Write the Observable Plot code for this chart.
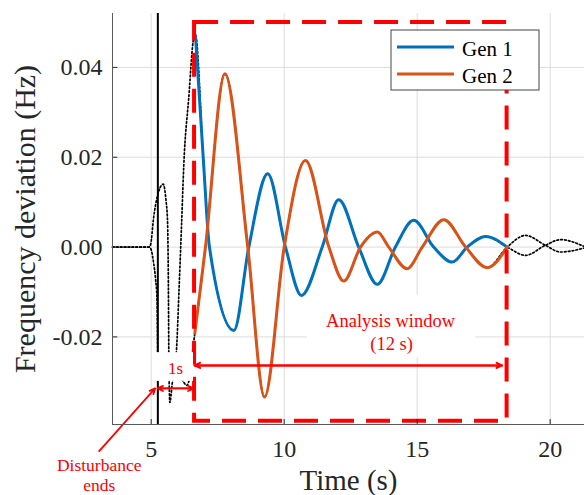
<!DOCTYPE html>
<html><head><meta charset="utf-8">
<script src="https://cdn.jsdelivr.net/npm/d3@7"></script>
<script src="https://cdn.jsdelivr.net/npm/@observablehq/plot@0.6"></script>
<style>html,body{margin:0;padding:0;background:#fff;} svg{display:block}</style>
</head><body><div id="chart"></div>
<script>
// ---- data ----
const gen1T = [3.545, 4.90, 4.97, 5.10, 5.24, 5.451, 5.556, 5.613, 5.65, 5.662, 5.677, 5.70, 5.79, 5.95, 6.045, 6.14, 6.225, 6.41, 6.60,
  6.665, 6.955, 7.19, 8.11, 8.67, 9.38, 10.05, 10.65, 11.43, 12.05, 12.80, 13.50, 14.18, 14.87, 15.62, 16.32, 16.88, 17.57, 18.38,
  19.07, 19.82, 20.39, 21.29];
const gen1V = [0, 0, 0.0004, 0.0070, 0.0115, 0.0140, 0.0104, 0.0059, -0.0119, -0.0237, -0.0304, -0.0346, -0.0304, -0.0230, -0.0097, 0.0048, 0.0182, 0.0331, 0.0465,
  0.0471, 0.0200, 0, -0.01855, 0, 0.01635, 0, -0.01076, 0, 0.01056, 0, -0.0083, 0, 0.00595, 0, -0.00334, 0, 0.00238, 0,
  -0.00185, 0.0004, 0.00165, 0.0001];
const gen2T = [3.545, 4.90, 4.97, 5.09, 5.16, 5.22, 5.25, 5.54, 5.91, 6.18, 6.33, 6.46, 6.55,
  6.64, 7.04, 7.77, 8.63, 9.26, 10.00, 10.80, 11.68, 12.24, 12.87, 13.50, 13.93, 14.62, 15.19, 16.00, 16.82, 17.63, 18.38,
  19.07, 19.82, 20.39, 21.29];
const gen2V = [0, 0, -0.0002, -0.0035, -0.0069, -0.0120, -0.0252, -0.0279, -0.0288, -0.0297, -0.0308, -0.0286, -0.0235,
  -0.0192, 0, 0.0386, 0, -0.0334, 0, 0.0193, 0, -0.00757, 0, 0.00334, 0, -0.00481, 0, 0.0061, 0, -0.00459, 0,
  0.0026, 0.0004, -0.0011, -0.0002];
const seriesNames = ["Gen 1", "Gen 2"];
const seriesColors = ["#0072BD", "#D95319"];
const xTicks = [5, 10, 15, 20];
const yTicks = [-0.02, 0, 0.02, 0.04];
const xDomain = [3.545, 21.29];
const yDomain = [-0.0395, 0.052];
const disturbanceT = 5.25;
const windowT = [6.63, 18.38];
const windowV = [-0.0388, 0.05];
// annotation texts and anchors (data coordinates)
const noteText = ["1s", "Analysis window", "(12 s)", "Disturbance", "ends"];
const noteT = [5.914, 14.0, 14.04, 3.045, 3.045];
const noteV = [-0.0271, -0.01648, -0.02151, -0.0487, -0.0530];
const noteSize = [17, 18.5, 18.5, 17.5, 17.5];
// white label backgrounds
const bgT1 = [5.16, 10.88], bgT2 = [6.59, 17.2], bgV1 = [-0.0235, -0.01076], bgV2 = [-0.0299, -0.02465];
// arrows: [t1, v1, t2, v2]
const arrowT1 = [5.24, 6.59, 6.63, 18.19, 3.045];
const arrowV1 = [-0.03147, -0.03147, -0.02635, -0.02635, -0.04543];
const arrowT2 = [6.59, 5.24, 18.19, 6.63, 5.147];
const arrowV2 = [-0.03147, -0.03147, -0.02635, -0.02635, -0.03147];
const arrowW = [1.8, 1.8, 2, 2, 1.8];

// ---- build tables ----
const rows = [
  ...gen1T.map((t, i) => ({t, v: gen1V[i], s: seriesNames[0]})),
  ...gen2T.map((t, i) => ({t, v: gen2V[i], s: seriesNames[1]}))
];
const inWin = rows.filter(d => d.t >= 6.62 && d.t <= 18.39);
const notes = noteText.map((s, i) => ({s, t: noteT[i], v: noteV[i], size: noteSize[i]}));
const bgs = bgT1.map((t1, i) => ({t1, t2: bgT2[i], v1: bgV1[i], v2: bgV2[i]}));
const arrows = arrowT1.map((t1, i) => ({t1, v1: arrowV1[i], t2: arrowT2[i], v2: arrowV2[i], w: arrowW[i]}));
const RED = "#ff0000";
const FONT = "Liberation Serif, Times New Roman, serif";

const plot = Plot.plot({
  width: 584, height: 495,
  marginLeft: 112, marginRight: 0, marginTop: 13, marginBottom: 71,
  style: {fontFamily: FONT, fontSize: "24px", color: "#262626", background: "white", overflow: "hidden"},
  x: {domain: xDomain, ticks: xTicks, tickSize: 0, tickPadding: 15, label: null},
  y: {domain: yDomain, ticks: yTicks, tickSize: 0, tickPadding: 10, label: null, tickFormat: d => d.toFixed(2)},
  color: {domain: seriesNames, range: seriesColors},
  marks: [
    Plot.ruleX(xTicks, {x: d => d, stroke: "#dcdcdc", strokeWidth: 1}),
    Plot.ruleY(yTicks, {y: d => d, stroke: "#dcdcdc", strokeWidth: 1}),
    Plot.line(rows, {x: "t", y: "v", z: "s", stroke: "black", strokeWidth: 1.7, strokeDasharray: "1.7,2.2", curve: "monotone-x"}),
    Plot.ruleX([disturbanceT], {x: d => d, stroke: "black", strokeWidth: 2}),
    Plot.line(inWin, {x: "t", y: "v", z: "s", stroke: "s", strokeWidth: 3, curve: "monotone-x"}),
    Plot.rect([0], {x1: windowT[0], x2: windowT[1], y1: windowV[0], y2: windowV[1], fill: "none", stroke: RED, strokeWidth: 4, strokeDasharray: "24,12"}),
    Plot.rect(bgs, {x1: "t1", x2: "t2", y1: "v1", y2: "v2", fill: "white"}),
    Plot.text(notes, {x: "t", y: "v", text: "s", fill: RED, fontSize: d => d.size, lineAnchor: "middle", textAnchor: "middle", fontFamily: FONT}),
    Plot.arrow(arrows, {x1: "t1", y1: "v1", x2: "t2", y2: "v2", stroke: RED, strokeWidth: "w", headLength: 9, headAngle: 50}),
    Plot.ruleY(yTicks, {y: d => d, x1: xDomain[0], x2: xDomain[0] + 0.2, stroke: "#262626", strokeWidth: 1}),
    Plot.ruleX(xTicks, {x: d => d, y1: yDomain[0], y2: yDomain[0] + 0.0011, stroke: "#262626", strokeWidth: 1}),
    Plot.ruleX([xDomain[0]], {x: d => d, stroke: "#5a5a5a", strokeWidth: 1}),
    Plot.ruleY([yDomain[0]], {y: d => d, stroke: "#5a5a5a", strokeWidth: 1}),
    Plot.text(["Frequency deviation (Hz)"], {frameAnchor: "left", dx: -87, rotate: -90, fontSize: 30, lineAnchor: "middle", textAnchor: "middle", fill: "#262626"}),
    Plot.text(["Time (s)"], {frameAnchor: "bottom", dy: 56, fontSize: 29, lineAnchor: "middle", textAnchor: "middle", fill: "#262626"})
  ]
});
document.getElementById("chart").appendChild(plot);

// ---- legend (pixel layout inside the plot's svg) ----
const svg = d3.select(plot);
const lg = svg.append("g").attr("text-anchor", "start");
lg.append("rect").attr("x", 391).attr("y", 30).attr("width", 148).attr("height", 60)
  .attr("fill", "white").attr("stroke", "#444").attr("stroke-width", 1);
seriesNames.forEach((name, i) => {
  const y = 47 + i * 27;
  lg.append("line").attr("x1", 397).attr("x2", 454).attr("y1", y).attr("y2", y)
    .attr("stroke", seriesColors[i]).attr("stroke-width", 3);
  lg.append("text").attr("x", 462).attr("y", y + 2).attr("dy", "0.35em")
    .attr("text-anchor", "start")
    .attr("font-family", FONT).attr("font-size", 21).attr("fill", "black").text(name);
});
</script></body></html>
